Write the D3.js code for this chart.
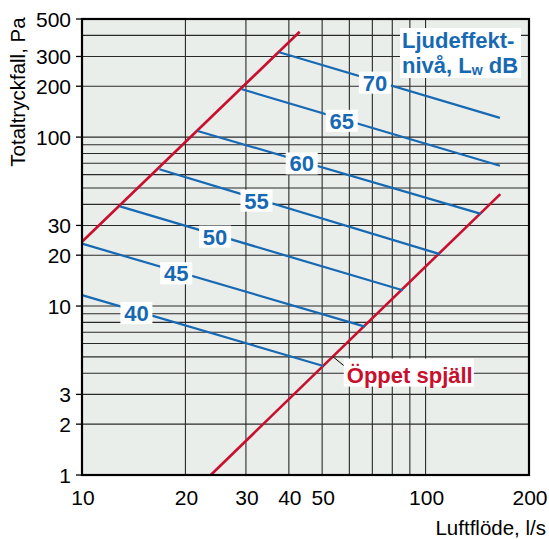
<!DOCTYPE html>
<html>
<head>
<meta charset="utf-8">
<script src="https://cdn.jsdelivr.net/npm/d3@7"></script>
<style>
  body { margin: 0; background: #fff; }
  svg { display: block; font-family: "Liberation Sans", Arial, Helvetica, sans-serif; }
</style>
</head>
<body>
<svg id="chart" width="549" height="539"></svg>
<script>
// axis ticks and grid
const xTicks = [10, 20, 30, 40, 50, 100, 200];
const yTicks = [1, 2, 3, 10, 20, 30, 100, 200, 300, 500];
const xGrid = [20, 30, 40, 50, 60, 70, 80, 90, 100];
const yGrid = [2, 3, 4, 5, 6, 7, 8, 9, 10, 20, 30, 40, 50, 60, 70, 80, 90, 100, 200, 300, 400];

// red limit lines [l/s, Pa]
const closedLine = [[10, 24], [43, 420]];
const openLine = [[23.7, 1], [165, 46]];

// sound power level lines: start on upper red line, end on lower one
const levels = [40, 45, 50, 55, 60, 65, 70];
const levelStart = [[10, 11.6], [10, 23.4], [12.9, 38.9], [16.8, 64.5], [21.7, 108.7], [29.2, 192], [37.5, 318]];
const levelEnd = [[50.4, 4.42], [66.6, 7.55], [85.8, 12.4], [110, 20.3], [145, 35.1], [164.6, 67.7], [164.6, 130]];
const labelFlow = [14.4, 18.8, 24.4, 32.2, 43.6, 57, 71.2];

const blue = "#1769b3";
const red = "#c8102e";

const svg = d3.select("#chart");
const width = +svg.attr("width");
const height = +svg.attr("height");
const margin = { top: 19, right: 20, bottom: 64, left: 82 };
const innerWidth = width - margin.left - margin.right;
const innerHeight = height - margin.top - margin.bottom;

const g = svg.append("g")
  .attr("transform", `translate(${margin.left},${margin.top})`);

const x = d3.scaleLog().domain([10, 200]).range([0, innerWidth]);
const y = d3.scaleLog().domain([1, 500]).range([innerHeight, 0]);

// plot background
g.append("rect")
  .attr("width", innerWidth)
  .attr("height", innerHeight)
  .attr("fill", "#eaeeeb");

// grid
g.selectAll("line.vgrid")
  .data(xGrid)
  .join("line")
  .attr("class", "vgrid")
  .attr("x1", d => x(d)).attr("x2", d => x(d))
  .attr("y1", 0).attr("y2", innerHeight)
  .attr("stroke", "#2a2a2a")
  .attr("stroke-width", 1.1);

g.selectAll("line.hgrid")
  .data(yGrid)
  .join("line")
  .attr("class", "hgrid")
  .attr("x1", 0).attr("x2", innerWidth)
  .attr("y1", d => y(d)).attr("y2", d => y(d))
  .attr("stroke", "#2a2a2a")
  .attr("stroke-width", 1.1);

// tick marks + labels on the left
g.selectAll("line.ytick")
  .data(yTicks)
  .join("line")
  .attr("class", "ytick")
  .attr("x1", -6).attr("x2", 0)
  .attr("y1", d => y(d)).attr("y2", d => y(d))
  .attr("stroke", "#000")
  .attr("stroke-width", 1.3);

g.selectAll("text.ylabel")
  .data(yTicks)
  .join("text")
  .attr("class", "ylabel")
  .attr("x", -11)
  .attr("y", d => y(d))
  .attr("dy", "0.36em")
  .attr("text-anchor", "end")
  .style("font-size", "21px")
  .text(d => d);

g.selectAll("text.xlabel")
  .data(xTicks)
  .join("text")
  .attr("class", "xlabel")
  .attr("x", d => x(d) + 1)
  .attr("y", innerHeight + 30)
  .attr("text-anchor", "middle")
  .style("font-size", "21px")
  .text(d => d);

// axis titles
svg.append("text")
  .attr("transform", `translate(25, ${margin.top + 73}) rotate(-90)`)
  .attr("text-anchor", "middle")
  .style("font-size", "20.5px")
  .text("Totaltryckfall, Pa");

svg.append("text")
  .attr("x", width - 3)
  .attr("y", 535)
  .attr("text-anchor", "end")
  .style("font-size", "20.5px")
  .text("Luftflöde, l/s");

// red lines
const line = d3.line().x(d => x(d[0])).y(d => y(d[1]));

g.selectAll("path.limit")
  .data([closedLine, openLine])
  .join("path")
  .attr("class", "limit")
  .attr("d", line)
  .attr("fill", "none")
  .attr("stroke", red)
  .attr("stroke-width", 2.6);

// blue level lines
const levelData = levels.map((L, i) => ({ L, pts: [levelStart[i], levelEnd[i]], at: labelFlow[i] }));

g.selectAll("path.level")
  .data(levelData)
  .join("path")
  .attr("class", "level")
  .attr("d", d => line(d.pts))
  .attr("fill", "none")
  .attr("stroke", blue)
  .attr("stroke-width", 2.2);

// point on a level line (log-log interpolation)
function levelY(d, q) {
  const [a, b] = d.pts;
  const t = Math.log(q / a[0]) / Math.log(b[0] / a[0]);
  return Math.exp(Math.log(a[1]) + t * Math.log(b[1] / a[1]));
}

const labels = g.selectAll("g.level-label")
  .data(levelData)
  .join("g")
  .attr("class", "level-label")
  .attr("transform", d => `translate(${x(d.at)},${y(levelY(d, d.at)) + 2})`);

labels.append("rect")
  .attr("x", -16).attr("y", -11)
  .attr("width", 32).attr("height", 22)
  .attr("fill", "#fff");

labels.append("text")
  .attr("text-anchor", "middle")
  .attr("dy", "0.36em")
  .attr("fill", blue)
  .style("font-size", "22px")
  .style("font-weight", "bold")
  .text(d => d.L);

// legend text top right
g.append("rect")
  .attr("x", 318).attr("y", 9)
  .attr("width", 121).attr("height", 50)
  .attr("fill", "#fff");

const legend = g.append("text")
  .attr("fill", blue)
  .style("font-size", "22px")
  .style("font-weight", "bold");
legend.append("tspan").attr("x", 320).attr("y", 29).text("Ljudeffekt-");
const l2 = legend.append("tspan").attr("x", 320).attr("y", 54).text("nivå, L");
legend.append("tspan").attr("dy", 2).style("font-size", "14px").text("w");
legend.append("tspan").attr("dy", -2).text(" dB");

// open damper annotation
const leadQ = 53.7;
const leadP = Math.pow(leadQ / openLine[0][0], Math.log(openLine[1][1]) / Math.log(openLine[1][0] / openLine[0][0]));
const lx = x(leadQ), ly = y(leadP);

g.append("line")
  .attr("x1", lx).attr("y1", ly)
  .attr("x2", lx + 11).attr("y2", ly + 9)
  .attr("stroke", "#000")
  .attr("stroke-width", 1);

g.append("rect")
  .attr("x", lx + 11).attr("y", ly + 2)
  .attr("width", 130).attr("height", 28)
  .attr("fill", "#fff");

g.append("text")
  .attr("x", lx + 14)
  .attr("y", ly + 26)
  .attr("fill", red)
  .style("font-size", "22px")
  .style("font-weight", "bold")
  .text("Öppet spjäll");

// frame
g.append("rect")
  .attr("width", innerWidth)
  .attr("height", innerHeight)
  .attr("fill", "none")
  .attr("stroke", "#000")
  .attr("stroke-width", 2.2);
</script>
</body>
</html>
